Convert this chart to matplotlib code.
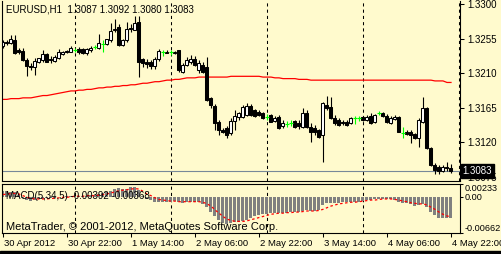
import matplotlib
matplotlib.use('Agg')
import matplotlib.pyplot as plt
import matplotlib.transforms as mtransforms
from matplotlib.patches import Rectangle
import numpy as np

plt.rcParams['font.family'] = ['Liberation Sans', 'DejaVu Sans']

# EURUSD H1, 30 Apr 2012 06:00 .. 4 May 2012 22:00
opens = [
    1.3245, 1.3251, 1.3249, 1.3253, 1.3240, 1.3239, 1.3227, 1.3220, 1.3218, 1.3225,
    1.3227, 1.3235, 1.3229, 1.3226, 1.3230, 1.3235, 1.3239, 1.3238, 1.3240, 1.3242,
    1.3241, 1.3236, 1.3240, 1.3244, 1.3243, 1.3248, 1.3248, 1.3253, 1.3266, 1.3270,
    1.3247, 1.3253, 1.3269, 1.3266, 1.3276, 1.3228, 1.3224, 1.3224, 1.3219, 1.3229,
    1.3237, 1.3238, 1.3237, 1.3236, 1.3240, 1.3212, 1.3221, 1.3225, 1.3229, 1.3214,
    1.3221, 1.3218, 1.3178, 1.3167, 1.3147, 1.3136, 1.3139, 1.3132, 1.3148, 1.3153,
    1.3153, 1.3156, 1.3167, 1.3162, 1.3160, 1.3158, 1.3153, 1.3156, 1.3148, 1.3153,
    1.3142, 1.3144, 1.3145, 1.3148, 1.3145, 1.3140, 1.3158, 1.3140, 1.3139, 1.3136,
    1.3130, 1.3169, 1.3166, 1.3152, 1.3149, 1.3147, 1.3147, 1.3145, 1.3152, 1.3152,
    1.3153, 1.3149, 1.3154, 1.3147, 1.3158, 1.3158, 1.3154, 1.3145, 1.3151, 1.3153,
    1.3132, 1.3134, 1.3134, 1.3131, 1.3126, 1.3147, 1.3165, 1.3113, 1.3091, 1.3088,
    1.3083, 1.3088, 1.3087]
highs = [
    1.3253, 1.3253, 1.3260, 1.3260, 1.3243, 1.3243, 1.3230, 1.3223, 1.3230, 1.3230,
    1.3240, 1.3236, 1.3232, 1.3234, 1.3242, 1.3239, 1.3240, 1.3245, 1.3243, 1.3244,
    1.3243, 1.3243, 1.3245, 1.3247, 1.3261, 1.3253, 1.3255, 1.3275, 1.3281, 1.3274,
    1.3255, 1.3276, 1.3274, 1.3284, 1.3284, 1.3230, 1.3229, 1.3227, 1.3231, 1.3242,
    1.3240, 1.3240, 1.3240, 1.3239, 1.3240, 1.3223, 1.3231, 1.3234, 1.3232, 1.3227,
    1.3225, 1.3231, 1.3179, 1.3170, 1.3149, 1.3139, 1.3142, 1.3152, 1.3162, 1.3160,
    1.3169, 1.3171, 1.3170, 1.3163, 1.3162, 1.3160, 1.3157, 1.3157, 1.3154, 1.3156,
    1.3149, 1.3148, 1.3149, 1.3149, 1.3149, 1.3165, 1.3162, 1.3145, 1.3143, 1.3138,
    1.3172, 1.3180, 1.3179, 1.3156, 1.3152, 1.3149, 1.3149, 1.3153, 1.3154, 1.3154,
    1.3154, 1.3156, 1.3158, 1.3157, 1.3161, 1.3160, 1.3157, 1.3154, 1.3156, 1.3154,
    1.3140, 1.3136, 1.3136, 1.3132, 1.3152, 1.3179, 1.3166, 1.3114, 1.3093, 1.3091,
    1.3091, 1.3095, 1.3092]
lows = [
    1.3243, 1.3247, 1.3248, 1.3235, 1.3235, 1.3226, 1.3206, 1.3214, 1.3208, 1.3223,
    1.3225, 1.3225, 1.3223, 1.3225, 1.3229, 1.3234, 1.3236, 1.3237, 1.3238, 1.3235,
    1.3235, 1.3234, 1.3238, 1.3241, 1.3241, 1.3238, 1.3247, 1.3251, 1.3263, 1.3245,
    1.3245, 1.3251, 1.3263, 1.3266, 1.3205, 1.3218, 1.3217, 1.3216, 1.3216, 1.3226,
    1.3233, 1.3236, 1.3234, 1.3235, 1.3212, 1.3210, 1.3219, 1.3222, 1.3219, 1.3210,
    1.3210, 1.3174, 1.3165, 1.3136, 1.3130, 1.3132, 1.3126, 1.3130, 1.3136, 1.3149,
    1.3152, 1.3154, 1.3154, 1.3153, 1.3154, 1.3151, 1.3149, 1.3146, 1.3147, 1.3138,
    1.3139, 1.3140, 1.3142, 1.3139, 1.3138, 1.3139, 1.3139, 1.3121, 1.3130, 1.3126,
    1.3095, 1.3162, 1.3151, 1.3143, 1.3142, 1.3143, 1.3142, 1.3144, 1.3144, 1.3148,
    1.3148, 1.3148, 1.3144, 1.3145, 1.3156, 1.3153, 1.3145, 1.3144, 1.3149, 1.3133,
    1.3126, 1.3130, 1.3119, 1.3124, 1.3114, 1.3145, 1.3112, 1.3089, 1.3079, 1.3079,
    1.3082, 1.3083, 1.3080]
closes = [
    1.3251, 1.3249, 1.3255, 1.3236, 1.3237, 1.3227, 1.3219, 1.3218, 1.3226, 1.3230,
    1.3235, 1.3225, 1.3227, 1.3231, 1.3238, 1.3238, 1.3237, 1.3243, 1.3240, 1.3237,
    1.3236, 1.3241, 1.3243, 1.3244, 1.3249, 1.3248, 1.3254, 1.3265, 1.3268, 1.3247,
    1.3253, 1.3268, 1.3268, 1.3275, 1.3225, 1.3223, 1.3222, 1.3219, 1.3229, 1.3239,
    1.3237, 1.3236, 1.3237, 1.3238, 1.3214, 1.3221, 1.3227, 1.3229, 1.3221, 1.3223,
    1.3212, 1.3175, 1.3169, 1.3145, 1.3136, 1.3134, 1.3130, 1.3148, 1.3154, 1.3158,
    1.3166, 1.3168, 1.3156, 1.3154, 1.3156, 1.3152, 1.3153, 1.3147, 1.3152, 1.3139,
    1.3145, 1.3144, 1.3145, 1.3140, 1.3141, 1.3158, 1.3140, 1.3134, 1.3133, 1.3127,
    1.3171, 1.3165, 1.3152, 1.3145, 1.3143, 1.3145, 1.3143, 1.3152, 1.3152, 1.3152,
    1.3149, 1.3153, 1.3145, 1.3156, 1.3158, 1.3154, 1.3147, 1.3152, 1.3153, 1.3134,
    1.3132, 1.3131, 1.3130, 1.3126, 1.3149, 1.3165, 1.3113, 1.3091, 1.3084, 1.3083,
    1.3088, 1.3087, 1.3083]

# red moving average
ma = ([1.3176, 1.3176, 1.3177, 1.3177, 1.3177, 1.3178, 1.3178, 1.3178]
      + [1.3179, 1.3180, 1.3181, 1.3181, 1.3182, 1.3183, 1.3184, 1.3185, 1.3186, 1.3187]
      + [1.3187, 1.3188, 1.3188, 1.3189, 1.3189, 1.3190]
      + [1.3191, 1.3191, 1.3192, 1.3192, 1.3193, 1.3193, 1.3194, 1.3194]
      + [1.3195, 1.3195, 1.3196, 1.3197, 1.3197, 1.3198, 1.3199, 1.3199, 1.3200]
      + [1.3201, 1.3201, 1.3202, 1.3202, 1.3203, 1.3204, 1.3204, 1.3204, 1.3205, 1.3205]
      + [1.3205] * 6 + [1.3206] * 8
      + [1.3205, 1.3205, 1.3205, 1.3204, 1.3204]
      + [1.3203, 1.3203, 1.3203, 1.3203, 1.3202, 1.3202, 1.3202, 1.3201]
      + [1.3201] * 30
      + [1.3200, 1.3200, 1.3200, 1.3198, 1.3198])

# MACD(5,34,5)
macd_hist = [
    0.0010, 0.0010, 0.0009, 0.0008, 0.0003, -0.0003, -0.0006, -0.0007, -0.0006, -0.0005,
    -0.0004, -0.0003, -0.0002, -0.0002, -0.0001, 0.0000, 0.0001, 0.0002, 0.0002, 0.0002,
    0.0002, 0.0002, 0.0003, 0.0003, 0.0005, 0.0007, 0.0008, 0.0011, 0.0015, 0.0016,
    0.0014, 0.0015, 0.0017, 0.0018, 0.0012, 0.0002, -0.0004, -0.0006, -0.0010, -0.0010,
    -0.0009, -0.0009, -0.0009, -0.0008, -0.0010, -0.0011, -0.0010, -0.0009, -0.0009, -0.0010,
    -0.0013, -0.0018, -0.0027, -0.0036, -0.0042, -0.0048, -0.0049, -0.0048, -0.0047, -0.0046,
    -0.0044, -0.0042, -0.0039, -0.0036, -0.0034, -0.0032, -0.0031, -0.0030, -0.0030, -0.0030,
    -0.0029, -0.0029, -0.0028, -0.0028, -0.0027, -0.0026, -0.0025, -0.0026, -0.0026, -0.0025,
    -0.0015, -0.0012, -0.0011, -0.0011, -0.0011, -0.0010, -0.0010, -0.0010, -0.0009, -0.0009,
    -0.0007, -0.0006, -0.0006, -0.0005, -0.0004, -0.0004, -0.0004, -0.0004, -0.0006, -0.0009,
    -0.0011, -0.0012, -0.0014, -0.0016, -0.0015, -0.0013, -0.0018, -0.0027, -0.0034, -0.0038,
    -0.0039, -0.0039, -0.00392]
macd_signal = [
    0.0004, 0.0005, 0.0006, 0.0006, 0.0005, 0.0002, -0.0001, -0.0003, -0.0004, -0.0004,
    -0.0004, -0.0004, -0.0003, -0.0003, -0.0002, -0.0001, -0.0001, 0.0000, 0.0001, 0.0001,
    0.0001, 0.0002, 0.0002, 0.0002, 0.0003, 0.0004, 0.0005, 0.0007, 0.0009, 0.0011,
    0.0012, 0.0013, 0.0014, 0.0015, 0.0014, 0.0010, 0.0005, 0.0002, -0.0002, -0.0005,
    -0.0006, -0.0007, -0.0008, -0.0008, -0.0009, -0.0009, -0.0009, -0.0009, -0.0009, -0.0009,
    -0.0010, -0.0013, -0.0017, -0.0024, -0.0030, -0.0036, -0.0041, -0.0043, -0.0045, -0.0045,
    -0.0045, -0.0044, -0.0042, -0.0040, -0.0038, -0.0036, -0.0034, -0.0032, -0.0031, -0.0030,
    -0.0030, -0.0029, -0.0029, -0.0028, -0.0028, -0.0027, -0.0026, -0.0026, -0.0026, -0.0025,
    -0.0023, -0.0020, -0.0017, -0.0015, -0.0013, -0.0012, -0.0011, -0.0010, -0.0010, -0.0009,
    -0.0008, -0.0007, -0.0006, -0.0006, -0.0005, -0.0004, -0.0004, -0.0004, -0.0005, -0.0006,
    -0.0008, -0.0009, -0.0011, -0.0012, -0.0013, -0.0013, -0.0015, -0.0019, -0.0023, -0.0028,
    -0.0032, -0.0035, -0.00368]

price_ticks = [1.3300, 1.3255, 1.3210, 1.3165, 1.3120, 1.3075]
time_ticks = [0, 16, 32, 48, 64, 80, 96, 112]
time_labels = ['30 Apr 2012', '30 Apr 22:00', '1 May 14:00', '2 May 06:00',
               '2 May 22:00', '3 May 14:00', '4 May 06:00', '4 May 22:00']
day_lines = [18, 42, 66, 90, 114]

BG = '#fffacd'
W, H = 502, 254
fig = plt.figure(figsize=(W / 100, H / 100), dpi=100, facecolor=BG)

ax = fig.add_axes([2 / W, 1 - 181 / H, 458 / W, 180 / H], facecolor=BG)
axm = fig.add_axes([2 / W, 1 - 233 / H, 458 / W, 49 / H], facecolor=BG, sharex=ax)

o = np.array(opens); h = np.array(highs); l = np.array(lows); c = np.array(closes)
idx = np.arange(len(c))
up = c > o
dn = c < o
dj = c == o

# candles
ax.vlines(idx[~dj], l[~dj], h[~dj], color='black', lw=0.8, zorder=2)
ax.bar(idx[up], c[up] - o[up], bottom=o[up], width=0.75, color='white',
       edgecolor='black', lw=0.75, zorder=3)
ax.bar(idx[dn], o[dn] - c[dn], bottom=c[dn], width=0.75, color='black',
       edgecolor='black', lw=0.75, zorder=3)
ax.vlines(idx[dj], l[dj], h[dj], color='#00ff00', lw=0.8, zorder=3)
ax.hlines(o[dj], idx[dj] - 0.45, idx[dj] + 0.45, color='#00ff00', lw=0.8, zorder=3)

ax.plot(idx, ma, color='red', lw=0.9, zorder=2)
ax.axhline(c[-1], color='#778899', lw=0.8, zorder=1)

for d in day_lines:
    ax.axvline(d, color='black', lw=0.75, ls=(0, (3, 3)), zorder=1)
    if d < 114:
        axm.axvline(d, color='black', lw=0.75, ls=(0, (3, 3)), zorder=1)

ax.set_xlim(-0.25, 114.25)
ax.set_ylim(1.30699, 1.33039)
ax.yaxis.tick_right()
ax.set_yticks(price_ticks)
ax.set_yticklabels([f'{p:.4f}' for p in price_ticks])
ax.tick_params(axis='y', direction='out', length=3, width=0.75, pad=2, labelsize=7)
ax.tick_params(axis='x', bottom=False, labelbottom=False)
ax.spines['top'].set_visible(False)
for s in ['left', 'right', 'bottom']:
    ax.spines[s].set_linewidth(0.8)

# current price box
ax.text(1.006, c[-1], f'{c[-1]:.4f}', transform=mtransforms.blended_transform_factory(ax.transAxes, ax.transData),
        color='white', fontsize=7, va='center', ha='left', clip_on=False, zorder=10,
        bbox=dict(boxstyle='square,pad=0.2', fc='black', ec='black'))

# MACD panel
axm.bar(idx, macd_hist, width=0.75, color='#808080', zorder=2)
axm.plot(idx, macd_signal, color='red', lw=0.9, ls=(0, (2, 2)), zorder=3)
axm.set_ylim(-0.00662, 0.00233)
axm.yaxis.tick_right()
axm.set_yticks([0.00233, 0.0, -0.00662])
axm.set_yticklabels(['0.00233', '0.00', '-0.00662'])
axm.tick_params(axis='y', direction='out', length=2.5, width=0.75, pad=1, labelsize=6.6)
ylabs = axm.get_yticklabels()
ylabs[0].set_va('top')
ylabs[2].set_va('bottom')
axm.set_xticks(time_ticks)
axm.set_xticklabels(time_labels, ha='left')
axm.tick_params(axis='x', direction='out', length=3, width=0.75, pad=1.5, labelsize=6.8)
offset = mtransforms.ScaledTranslation(1.0 / 100, 0, fig.dpi_scale_trans)
for t in axm.get_xticklabels():
    t.set_transform(t.get_transform() + offset)
for s in axm.spines.values():
    s.set_linewidth(0.8)

axm.text(0.009, 0.76, f'MACD(5,34,5) {macd_hist[-1]:.5f} {macd_signal[-1]:.5f}',
         transform=axm.transAxes, fontsize=7, va='center', ha='left', zorder=5)
axm.text(0.009, 0.02, 'MetaTrader, \u00a9 2001-2012, MetaQuotes Software Corp.',
         transform=axm.transAxes, fontsize=8, va='bottom', ha='left', zorder=5)

fig.text(6 / W, 1 - 10 / H, f'EURUSD,H1  {opens[-1]:.4f} {highs[-1]:.4f} {lows[-1]:.4f} {closes[-1]:.4f}',
         fontsize=7, va='center', ha='left')

# window edge
fig.add_artist(Rectangle((0, 0), 1, 3 / H, transform=fig.transFigure, color='black'))

fig.savefig('out.png', dpi=100, facecolor=BG)
